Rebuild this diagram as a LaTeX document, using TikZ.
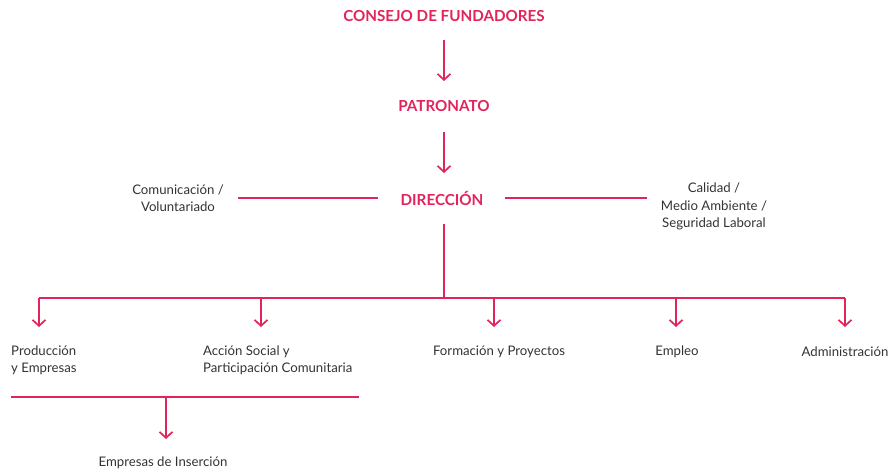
\documentclass[tikz,border=0pt]{standalone}
\usepackage{fontspec}
\setmainfont{Lato}
\usetikzlibrary{arrows.meta}
\definecolor{brand}{HTML}{E2245C}
\definecolor{txt}{HTML}{333333}
\tikzset{
  title/.style={text=brand, font=\bfseries\fontsize{15.2}{17}\selectfont, inner sep=0pt},
  lbl/.style={text=txt, font=\fontsize{13.2}{17.3}\selectfont, inner sep=0pt},
  ln/.style={draw=brand, line width=1.7pt},
  arr/.style={ln, -{Straight Barb[length=6pt,width=13pt,line width=1.7pt]}}
}
\begin{document}
\begin{tikzpicture}[x=1pt,y=-1pt]
\useasboundingbox (0,0) rectangle (891,472);
% titles
\node[title] (cf) at (444,16) {CONSEJO DE FUNDADORES};
\node[title] (pat) at (444,106) {PATRONATO};
\node[title] (dir) at (442,198) {DIRECCIÓN};
% side labels
\node[lbl, align=center] (com) at (178,198) {Comunicación /\\Voluntariado};
\node[lbl, align=center] (cal) at (714,206.5) {Calidad /\\Medio Ambiente /\\Seguridad Laboral};
% bottom labels
\node[lbl, align=left, anchor=west] (pro) at (11,360.5) {Producción\\y Empresas};
\node[lbl, align=left, anchor=west] (acc) at (203,360.5) {Acción Social y\\Participación Comunitaria};
\node[lbl] (for) at (499,352) {Formación y Proyectos};
\node[lbl] (emp) at (677,352) {Empleo};
\node[lbl] (adm) at (845,352) {Administración};
\node[lbl] (ins) at (163,463) {Empresas de Inserción};
% coordinates
\coordinate (c1a) at (444,40);  \coordinate (c1b) at (444,81);
\coordinate (c2a) at (444,132); \coordinate (c2b) at (444,173);
\coordinate (dl1) at (238,198); \coordinate (dl2) at (378,198);
\coordinate (dr1) at (505,198); \coordinate (dr2) at (647,198);
\coordinate (dv) at (444,224);
\coordinate (bus) at (444,298);
\coordinate (bl) at (39,298); \coordinate (br) at (845,298);
\coordinate (b2) at (261,298); \coordinate (b3) at (494,298); \coordinate (b4) at (676,298);
\coordinate (s1) at (11,397); \coordinate (s2) at (359,397); \coordinate (s3) at (166,397);
% connectors
\draw[arr] (c1a) -- (c1b);
\draw[arr] (c2a) -- (c2b);
\draw[ln] (dl1) -- (dl2);
\draw[ln] (dr1) -- (dr2);
\draw[ln] (dv) -- (bus);
\draw[ln] (bl) -- (br);
\draw[arr] (bl) -- (39,327);
\draw[arr] (b2) -- (261,327);
\draw[arr] (b3) -- (494,327);
\draw[arr] (b4) -- (676,327);
\draw[arr] (br) -- (845,327);
\draw[ln] (s1) -- (s2);
\draw[arr] (s3) -- (166,439);
\end{tikzpicture}
\end{document}
